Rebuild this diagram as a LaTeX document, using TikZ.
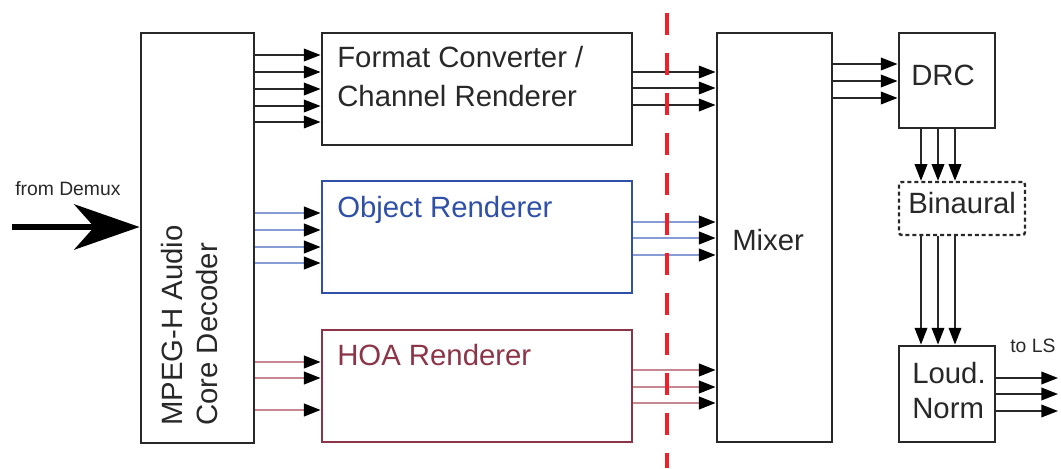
\documentclass[tikz,border=0pt]{standalone}
\usepackage{fontspec}
\setmainfont{Liberation Sans}
\usetikzlibrary{arrows.meta,fit}
\definecolor{objblue}{RGB}{48,80,168}
\definecolor{objline}{RGB}{135,155,212}
\definecolor{hoared}{RGB}{140,52,72}
\definecolor{hoaline}{RGB}{198,135,145}
\definecolor{dashred}{RGB}{242,30,40}
\definecolor{boxgray}{RGB}{40,40,40}
\begin{document}
\begin{tikzpicture}[x=0.75pt,y=-0.75pt,
  box/.style={draw=boxgray, line width=2.2pt, inner sep=0pt},
  objbox/.style={draw=objblue, line width=2.2pt, inner sep=0pt},
  hoabox/.style={draw=hoared, line width=2.2pt, inner sep=0pt},
  binbox/.style={draw=boxgray, line width=1.8pt, dash pattern=on 3pt off 2.2pt, rounded corners=2pt, inner sep=0pt},
  lbl/.style={inner sep=0pt, anchor=base west, align=left, font=\fontsize{22}{29.25}\selectfont, text=boxgray},
  small/.style={inner sep=0pt, anchor=base west, font=\fontsize{14.5}{17}\selectfont, text=boxgray},
  arr/.style={draw=boxgray, line width=1.1pt, -{Triangle[length=12.5pt,width=9.5pt,color=black]}},
  arrb/.style={arr, draw=objline, line width=1.5pt},
  arrh/.style={arr, draw=hoaline, line width=1.5pt},
  bigarr/.style={draw=black, line width=4.5pt, -{Stealth[length=49pt,width=34pt,inset=15pt]}}
]
\useasboundingbox (0,0) rectangle (1061,468);

% boxes
\node[box, fit={(141,33)(254,443)}] (dec) {};
\node[box, fit={(322,33)(632,145)}] (fc) {};
\node[objbox, fit={(322,181)(632,293)}] (obj) {};
\node[hoabox, fit={(322,330)(632,442)}] (hoa) {};
\node[box, fit={(717,33)(832,442)}] (mix) {};
\node[box, fit={(899,33)(995,128)}] (drc) {};
\node[binbox, fit={(899,182)(1025,235)}] (bin) {};
\node[box, fit={(899,346)(995,442)}] (ln) {};

% texts (multi-line: base anchor = last line's baseline)
\node[rotate=90, anchor=base west, align=left, inner sep=0pt, text=boxgray,
      font=\fontsize{22}{26.25}\selectfont] (decT) at (217,426) {MPEG-H Audio\\Core Decoder};
\node[lbl] (fcT) at (337,106) {Format Converter /\\Channel Renderer};
\node[lbl, text=objblue] (objT) at (337,217) {Object Renderer};
\node[lbl, text=hoared] (hoaT) at (337,365) {HOA Renderer};
\node[lbl] (mixT) at (732,250) {Mixer};
\node[lbl] (drcT) at (911,85) {DRC};
\node[lbl] (binT) at (908,213) {Binaural};
\node[lbl, font=\fontsize{22}{26.25}\selectfont] (lnT) at (912,418) {Loud.\\Norm};
\node[small] (demuxT) at (15,195) {from Demux};
\node[small] (lsT) at (1010,352) {to LS};

% input arrow
\coordinate (demux) at (12,227);
\draw[bigarr] (demux) -- (dec.west |- demux);

% decoder -> renderers
\foreach \y in {55,72,89,106,122} \draw[arr] (dec.east |- 0,\y) -- (fc.west |- 0,\y);
\foreach \y in {213,230,247,263} \draw[arrb] (dec.east |- 0,\y) -- (obj.west |- 0,\y);
\foreach \y in {362,378,410} \draw[arrh] (dec.east |- 0,\y) -- (hoa.west |- 0,\y);

% renderers -> mixer
\foreach \y in {72,88,105} \draw[arr] (fc.east |- 0,\y) -- (mix.west |- 0,\y);
\foreach \y in {222,238,255} \draw[arrb] (obj.east |- 0,\y) -- (mix.west |- 0,\y);
\foreach \y in {370,387,403} \draw[arrh] (hoa.east |- 0,\y) -- (mix.west |- 0,\y);

% mixer -> DRC
\foreach \y in {64,81,98} \draw[arr] (mix.east |- 0,\y) -- (drc.west |- 0,\y);

% DRC -> Binaural -> Loud. Norm
\foreach \x in {921,938,955} \draw[arr] (drc.south -| \x,0) -- (bin.north -| \x,0);
\foreach \x in {921,938,955} \draw[arr] (bin.south -| \x,0) -- (ln.north -| \x,0);

% to LS
\coordinate (ls) at (1058,394);
\foreach \y in {378,394,411} \draw[arr] (ln.east |- 0,\y) -- (ls |- 0,\y);

% red dashed separator
\coordinate (sepT) at (667,13);
\coordinate (sepB) at (667,468);
\draw[dashred, line width=2.3pt, dash pattern=on 16.5pt off 13.5pt] (sepT) -- (sepB);
\end{tikzpicture}
\end{document}
